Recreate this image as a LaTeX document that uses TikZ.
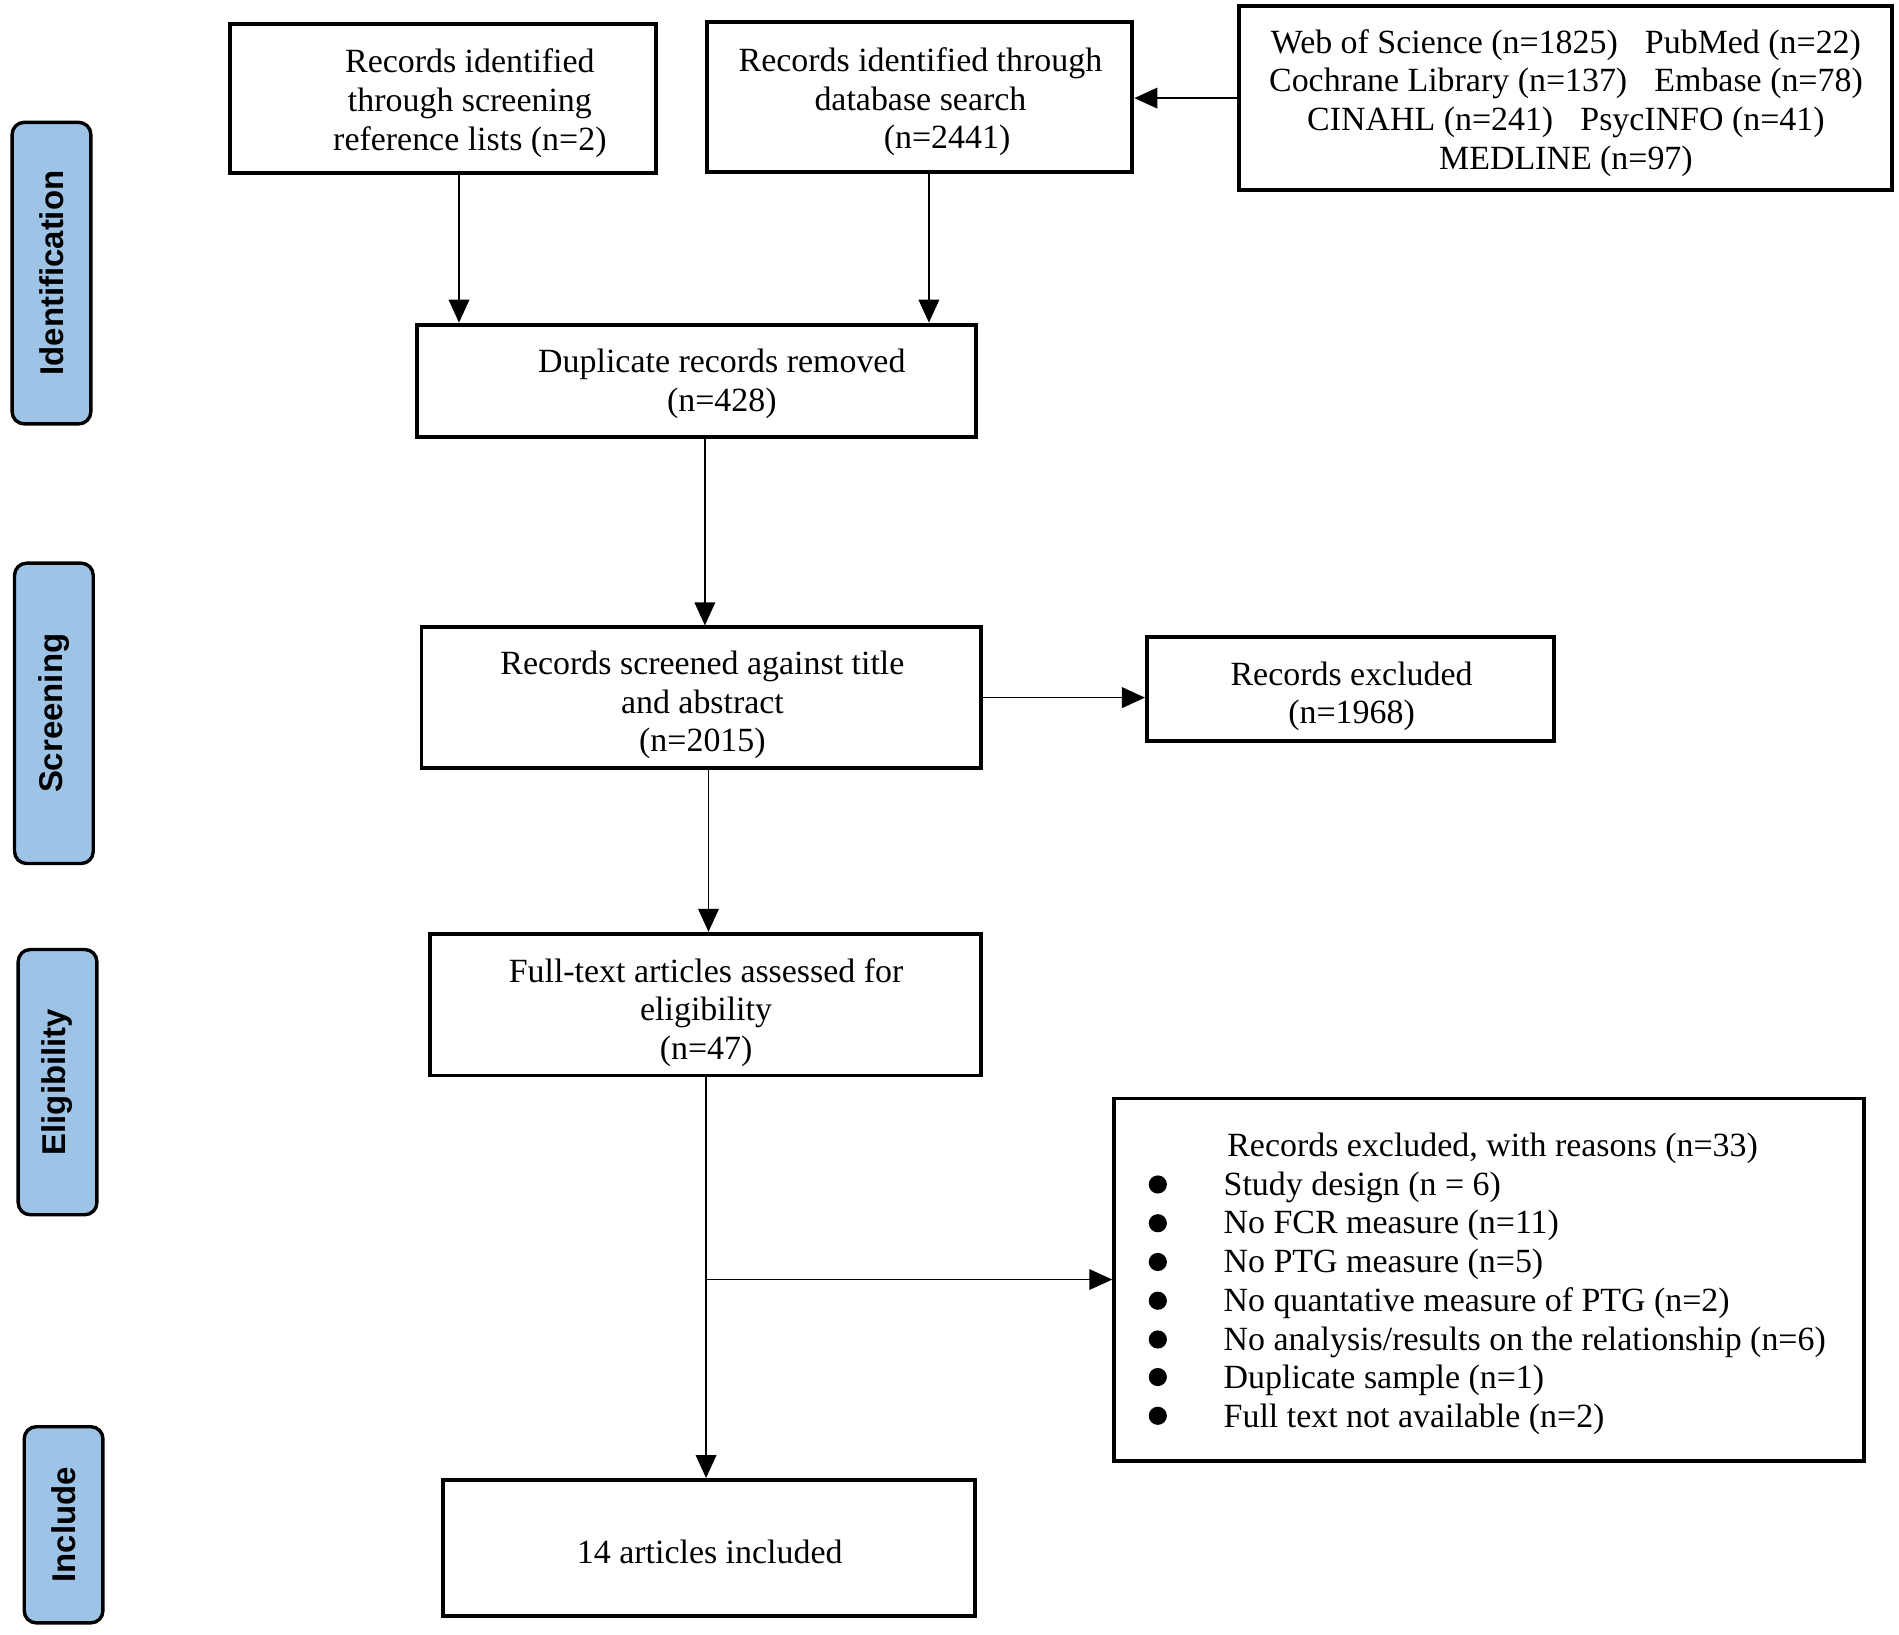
\documentclass[tikz,border=0pt]{standalone}
\usepackage{fontspec}
\setmainfont{Liberation Serif}
\newfontfamily\labelfont{Liberation Sans}
\usetikzlibrary{arrows.meta,calc}
\definecolor{sideblue}{RGB}{157,195,230}
\begin{document}
\begin{tikzpicture}[x=0.5pt,y=-0.5pt,
  box/.style={draw,line width=1.6pt,rectangle,inner sep=0pt},
  txt/.style={align=center,inner sep=0pt,font=\fontsize{14}{16}\selectfont},
  side/.style={draw,line width=1.4pt,rounded corners=5pt,fill=sideblue,rotate=90,inner sep=0pt,font=\labelfont\bfseries\fontsize{13.6}{16}\selectfont},
  arr/.style={line width=0.7pt,-{Triangle[length=9.5pt,width=8.5pt]}},
  bullet/.style={circle,fill=black,inner sep=0pt,minimum size=7.5pt}
]
\useasboundingbox (0,0) rectangle (1568,1350);

% side labels
\node[side,minimum width=124.5pt,minimum height=32.5pt] (s1) at (42.5,225.5) {Identification};
\node[side,minimum width=124pt,minimum height=32.5pt] (s2) at (44.5,589) {Screening};
\node[side,minimum width=109.5pt,minimum height=32.5pt] (s3) at (47.5,893.5) {Eligibility};
\node[side,minimum width=81pt,minimum height=32.5pt] (s4) at (52.5,1259) {Include};

% boxes
\node[box,minimum width=176pt,minimum height=61.5pt] (b1) at (366,81.5) {};
\node[box,minimum width=175.5pt,minimum height=62pt] (b2) at (759.5,80) {};
\node[box,minimum width=269.5pt,minimum height=76pt] (b3) at (1292.5,81) {};
\node[box,minimum width=231pt,minimum height=46.5pt] (b4) at (575,314.5) {};
\node[box,minimum width=231pt,minimum height=58pt] (b5) at (579,576) {};
\node[box,minimum width=168pt,minimum height=43pt] (b6) at (1115,569) {};
\node[box,minimum width=227.5pt,minimum height=58.5pt] (b7) at (582.5,829.5) {};
\node[box,minimum width=309.5pt,minimum height=149.5pt] (b8) at (1229.5,1056.5) {};
\node[box,minimum width=219.5pt,minimum height=56pt] (b9) at (585.5,1278) {};

% texts
\node[txt] (t1) at (388,85) {Records identified\\through screening\\reference lists (n=2)};
\node[txt] (t2) at (760,84) {Records identified through\\database search\\\hspace*{22pt}(n=2441)};
\node[txt] (t3) at (1293,85) {Web of Science (n=1825)\hspace{0.8em}PubMed (n=22)\\Cochrane Library (n=137)\hspace{0.8em}Embase (n=78)\\CINAHL (n=241)\hspace{0.8em}PsycINFO (n=41)\\MEDLINE (n=97)};
\node[txt] (t4) at (596,317) {Duplicate records removed\\(n=428)};
\node[txt] (t5) at (580,582) {Records screened against title\\and abstract\\(n=2015)};
\node[txt] (t6) at (1116,575) {Records excluded\\(n=1968)};
\node[txt] (t7) at (583,836) {Full-text articles assessed for\\eligibility\\(n=47)};
\node[txt,anchor=west,align=left] (t8) at (1010,1060) {\hspace*{1.5pt}Records excluded, with reasons (n=33)\\Study design (n = 6)\\No FCR measure (n=11)\\No PTG measure (n=5)\\No quantative measure of PTG (n=2)\\No analysis/results on the relationship (n=6)\\Duplicate sample (n=1)\\Full text not available (n=2)};
\node[txt] (t9) at (586,1281) {14 articles included};

% bullets
\foreach \i/\y in {1/978,2/1010,3/1042,4/1074,5/1106,6/1137,7/1169}
  \node[bullet] (bul\i) at (956,\y) {};

% connectors
\coordinate (c1) at (379,0);
\coordinate (c2) at (767,0);
\coordinate (c4) at (582,0);
\coordinate (c5) at (585,0);
\coordinate (c7) at (583,0);
\coordinate (br) at (583,1056.5);
\draw[arr] (b1.south -| c1) -- (b4.north -| c1);
\draw[arr] (b2.south -| c2) -- (b4.north -| c2);
\draw[arr] (b3.west) -- (b2.east |- b3.west);
\draw[arr] (b4.south -| c4) -- (b5.north -| c4);
\draw[arr] (b5.east) -- (b6.west |- b5.east);
\draw[arr] (b5.south -| c5) -- (b7.north -| c5);
\draw[arr] (b7.south -| c7) -- (b9.north -| c7);
\draw[arr] (br) -- (b8.west);
\end{tikzpicture}
\end{document}
